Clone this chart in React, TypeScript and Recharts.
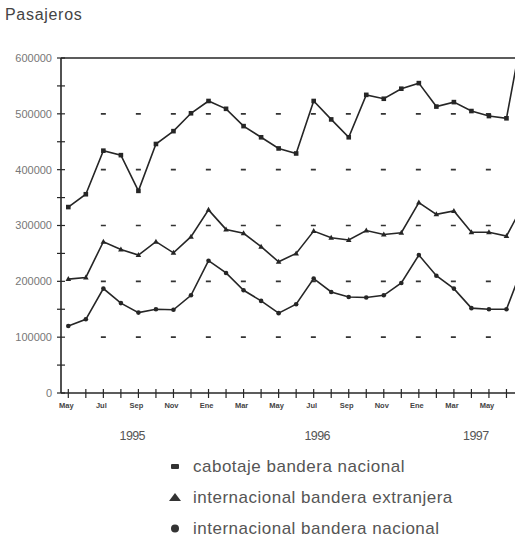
import { Legend, Line, LineChart, ReferenceLine, XAxis, YAxis } from "recharts";

// meses de may-1995 a jul-1997 (el último queda cortado en el borde)
const MONTHS = [
  "May", "Jun", "Jul", "Ago", "Sep", "Oct", "Nov", "Dic",
  "Ene", "Feb", "Mar", "Abr", "May", "Jun", "Jul", "Ago", "Sep", "Oct", "Nov", "Dic",
  "Ene", "Feb", "Mar", "Abr", "May", "Jun", "Jul",
];

const CABOTAJE = [
  333000, 356000, 434000, 426000, 362000, 446000, 469000, 501000,
  523000, 509000, 478000, 458000, 438000, 429000, 523000, 490000, 458000, 534000, 527000, 545000,
  555000, 513000, 521000, 505000, 496000, 492000, 660000,
];

const INT_EXTRANJERA = [
  204000, 207000, 271000, 257000, 247000, 271000, 251000, 280000,
  328000, 293000, 286000, 262000, 235000, 250000, 290000, 278000, 274000, 291000, 284000, 287000,
  341000, 320000, 326000, 288000, 288000, 281000, 340000,
];

const INT_NACIONAL = [
  120000, 132000, 187000, 161000, 144000, 150000, 149000, 175000,
  237000, 215000, 184000, 165000, 143000, 159000, 205000, 181000, 172000, 171000, 175000, 197000,
  247000, 210000, 187000, 152000, 150000, 150000, 232000,
];

const SERIES_NAMES = [
  "cabotaje bandera nacional",
  "internacional bandera extranjera",
  "internacional bandera nacional",
];

const Y_TICKS = [0, 50000, 100000, 150000, 200000, 250000, 300000, 350000, 400000, 450000, 500000, 550000, 600000];
const GRID_VALUES = [100000, 200000, 300000, 400000, 500000];
const YEAR_LABELS = ["1995", "1996", "1997"];
const YEAR_POS = [3.65, 14.2, 23.25];

const data = MONTHS.map((mes, i) => ({
  i,
  mes,
  cabotaje: CABOTAJE[i],
  extranjera: INT_EXTRANJERA[i],
  nacional: INT_NACIONAL[i],
}));

const INK = "#262626";
const X_DOMAIN: [number, number] = [-0.417, 26];

function YTick(props: any) {
  const { x, y, payload } = props;
  const v = payload.value as number;
  return (
    <g>
      <line x1={x - 4} x2={x + 4} y1={y} y2={y} stroke={INK} strokeWidth={1.2} />
      {v % 100000 === 0 && (
        <text x={x - 9} y={y} dy="0.35em" textAnchor="end" fontSize={11} fill="#777">
          {v}
        </text>
      )}
    </g>
  );
}

function XTick(props: any) {
  const { x, y, payload } = props;
  const i = payload.value as number;
  return (
    <g>
      <line x1={x} x2={x} y1={y - 4} y2={y + 5} stroke={INK} strokeWidth={1.2} />
      {i % 2 === 0 && (
        <text x={x - 2} y={y + 15} textAnchor="middle" fontSize={7.5} fontWeight="bold" fill="#444">
          {MONTHS[i]}
        </text>
      )}
    </g>
  );
}

function YearTick(props: any) {
  const { x, y, index } = props;
  return (
    <text x={x} y={y + 25} textAnchor="middle" fontSize={12.5} letterSpacing={-0.6} fill="#555">
      {YEAR_LABELS[index]}
    </text>
  );
}

function SquareDot(props: any) {
  const { cx, cy, index } = props;
  return <rect key={`s${index}`} x={cx - 2.3} y={cy - 2.3} width={4.6} height={4.6} fill={INK} />;
}

function TriangleDot(props: any) {
  const { cx, cy, index } = props;
  return (
    <polygon key={`t${index}`} points={`${cx},${cy - 3} ${cx - 2.8},${cy + 2} ${cx + 2.8},${cy + 2}`} fill={INK} />
  );
}

function CircleDot(props: any) {
  const { cx, cy, index } = props;
  return <circle key={`c${index}`} cx={cx} cy={cy} r={2.3} fill={INK} />;
}

const legendMarkers = [
  <rect key="m0" x={3} y={3} width={8} height={5} rx={1} fill="#333" />,
  <polygon key="m1" points="7,1 1,9 13,9" fill="#333" />,
  <circle key="m2" cx={7} cy={5.5} r={4} fill="#333" />,
];

function LegendBox() {
  return (
    <div style={{ fontFamily: '"Liberation Sans", Arial, sans-serif' }}>
      {SERIES_NAMES.map((name, k) => (
        <div key={name} style={{ display: "flex", alignItems: "center", height: 31 }}>
          <svg width={14} height={11} style={{ marginRight: 11 }}>
            {legendMarkers[k]}
          </svg>
          <span style={{ fontSize: 17, color: "#555", letterSpacing: 0.5 }}>{name}</span>
        </div>
      ))}
    </div>
  );
}

export default function App() {
  return (
    <div
      style={{
        position: "absolute",
        left: 0,
        top: 0,
        width: 515,
        height: 542,
        overflow: "hidden",
        background: "#fff",
        fontFamily: '"Liberation Sans", Arial, sans-serif',
      }}
    >
      <div style={{ position: "absolute", left: 5, top: 6, fontSize: 16, color: "#444", letterSpacing: 0.7 }}>
        Pasajeros
      </div>
      <LineChart
        width={524}
        height={542}
        data={data}
        margin={{ top: 58, right: 0, bottom: 87, left: 0 }}
        style={{ position: "absolute", left: 0, top: 0 }}
      >
        <XAxis
          dataKey="i"
          type="number"
          domain={X_DOMAIN}
          ticks={MONTHS.map((_, i) => i)}
          interval={0}
          height={22}
          tickSize={0}
          tickMargin={0}
          tick={<XTick />}
          tickLine={false}
          axisLine={{ stroke: INK, strokeWidth: 1.6 }}
        />
        <XAxis
          xAxisId="years"
          dataKey="i"
          type="number"
          domain={X_DOMAIN}
          ticks={YEAR_POS}
          interval={0}
          height={40}
          tickSize={0}
          tickMargin={0}
          tick={<YearTick />}
          tickLine={false}
          axisLine={false}
        />
        <YAxis
          width={61}
          domain={[0, 600000]}
          ticks={Y_TICKS}
          interval={0}
          allowDataOverflow
          tickSize={0}
          tickMargin={0}
          tick={<YTick />}
          tickLine={false}
          axisLine={{ stroke: INK, strokeWidth: 1.6 }}
        />
        <ReferenceLine y={600000} stroke={INK} strokeWidth={1.6} />
        {GRID_VALUES.map((v) => (
          <ReferenceLine
            key={v}
            segment={[
              { x: 1.857, y: v },
              { x: 26, y: v },
            ]}
            stroke="#333"
            strokeWidth={1.6}
            strokeDasharray="5 30"
          />
        ))}
        <Legend
          layout="vertical"
          align="center"
          verticalAlign="middle"
          wrapperStyle={{ top: 451, left: 168, width: "auto" }}
          content={() => <LegendBox />}
        />
        <Line
          dataKey="cabotaje"
          name={SERIES_NAMES[0]}
          stroke={INK}
          strokeWidth={1.6}
          dot={(p: any) => <SquareDot {...p} />}
          isAnimationActive={false}
        />
        <Line
          dataKey="extranjera"
          name={SERIES_NAMES[1]}
          stroke={INK}
          strokeWidth={1.6}
          dot={(p: any) => <TriangleDot {...p} />}
          isAnimationActive={false}
        />
        <Line
          dataKey="nacional"
          name={SERIES_NAMES[2]}
          stroke={INK}
          strokeWidth={1.6}
          dot={(p: any) => <CircleDot {...p} />}
          isAnimationActive={false}
        />
      </LineChart>
    </div>
  );
}
